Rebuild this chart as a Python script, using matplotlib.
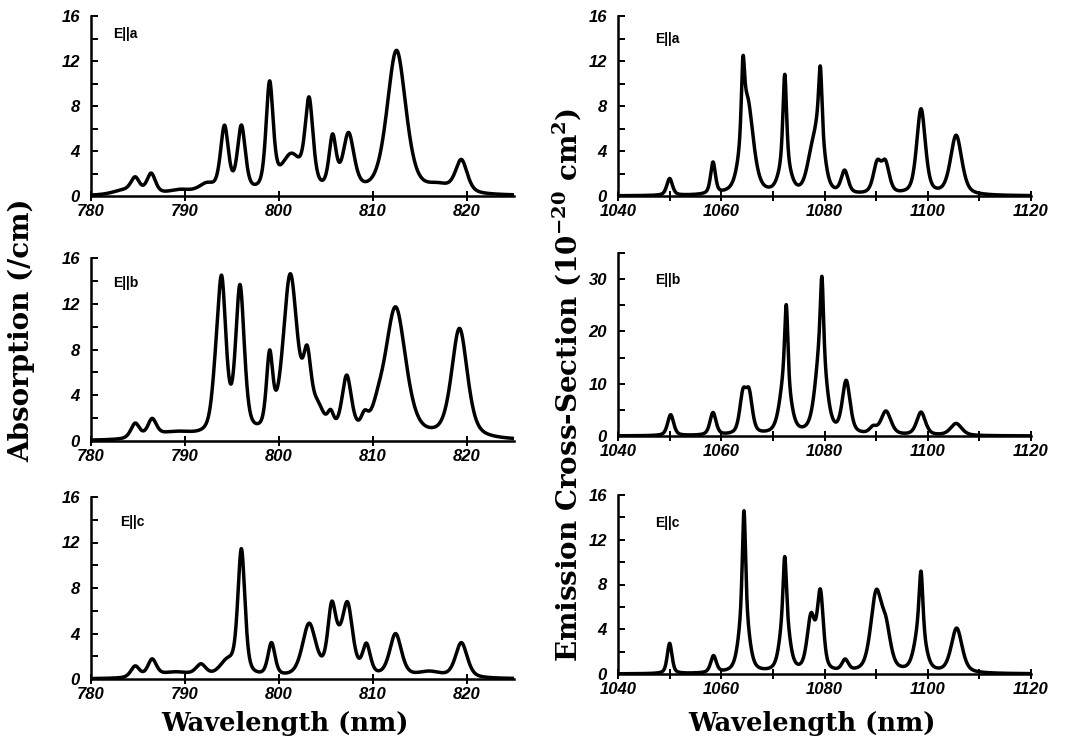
import numpy as np
import matplotlib.pyplot as plt
from matplotlib.ticker import MultipleLocator

plt.rcParams['mathtext.fontset'] = 'dejavuserif'
plt.rcParams['mathtext.default'] = 'bf'

# peak lists: centre (nm), amplitude, FWHM (nm)
abs_a_pos = [783.5, 784.7, 786.4, 789.5, 792.3, 794.2, 796.0, 799.0, 801.3, 803.2, 805.7, 807.4, 812.5, 817.0, 819.4]
abs_a_amp = [0.4, 1.3, 1.8, 0.4, 0.8, 5.8, 5.8, 9.4, 3.2, 7.6, 4.6, 5.0, 12.8, 0.6, 2.9]
abs_a_fwhm = [3.0, 1.1, 1.1, 3.0, 2.0, 1.0, 1.0, 0.9, 2.6, 1.0, 0.9, 1.4, 2.4, 3.0, 1.5]

abs_b_pos = [784.7, 786.5, 789.0, 793.2, 793.9, 795.85, 799.0, 801.2, 803.0, 804.1, 805.5, 807.2, 809.1, 810.5, 812.4, 819.2]
abs_b_amp = [1.3, 1.5, 0.6, 2.5, 13.0, 12.8, 6.4, 14.0, 5.6, 2.0, 1.4, 5.0, 1.2, 1.2, 11.4, 9.6]
abs_b_fwhm = [1.1, 1.1, 5.0, 1.0, 1.1, 1.1, 0.8, 1.8, 1.0, 1.6, 0.8, 1.2, 0.9, 1.6, 2.6, 2.0]

abs_c_pos = [784.7, 786.5, 789.0, 791.7, 794.5, 796.0, 799.2, 803.2, 805.6, 806.3, 807.3, 809.3, 812.4, 816.0, 819.4]
abs_c_amp = [1.0, 1.5, 0.5, 1.0, 1.3, 11.0, 2.9, 4.6, 5.2, 1.6, 5.8, 2.6, 3.8, 0.5, 3.1]
abs_c_fwhm = [1.1, 1.1, 4.0, 1.3, 2.0, 0.9, 0.9, 1.7, 1.0, 1.5, 1.3, 1.0, 1.5, 3.0, 1.5]

em_a_pos = [1050.0, 1058.4, 1064.2, 1065.0, 1072.3, 1072.3, 1077.4, 1079.2, 1079.0, 1083.9, 1090.2, 1091.8, 1098.7, 1105.5]
em_a_amp = [1.5, 2.8, 5.8, 8.4, 7.5, 3.0, 2.5, 5.0, 6.0, 2.0, 2.6, 2.6, 7.6, 5.3]
em_a_fwhm = [1.3, 1.1, 0.7, 2.8, 0.8, 2.4, 2.2, 0.7, 2.2, 1.6, 1.8, 1.8, 2.0, 2.6]

em_b_pos = [1050.2, 1058.4, 1064.2, 1065.4, 1072.6, 1072.4, 1079.5, 1079.3, 1084.2, 1089.4, 1091.9, 1098.7, 1105.5]
em_b_amp = [4.0, 4.3, 7.2, 7.2, 13.5, 11.5, 13.5, 17.0, 10.0, 1.2, 4.5, 4.4, 2.3]
em_b_fwhm = [1.4, 1.4, 1.5, 1.5, 0.7, 2.3, 0.7, 2.4, 1.8, 1.6, 2.3, 2.0, 2.6]

em_c_pos = [1050.0, 1058.5, 1064.4, 1064.4, 1072.3, 1072.3, 1077.4, 1079.2, 1084.0, 1090.0, 1091.9, 1098.7, 1098.5, 1105.6]
em_c_amp = [2.7, 1.5, 8.5, 6.0, 4.8, 5.5, 4.8, 6.8, 1.0, 6.8, 3.3, 4.8, 4.3, 4.0]
em_c_fwhm = [1.1, 1.3, 0.7, 2.1, 0.7, 2.0, 1.8, 1.4, 1.5, 2.5, 2.2, 0.8, 2.3, 2.5]

ETA = 0.5  # lorentzian share of the pseudo-voigt line shape


def spectrum(x, pos, amp, fwhm):
    y = np.zeros_like(x)
    for c, h, w in zip(pos, amp, fwhm):
        d = 4 * (x - c) ** 2 / w ** 2
        y += h * ((1 - ETA) * np.exp(-np.log(2) * d) + ETA / (1 + d))
    return y


W, H = 1067, 746
fig = plt.figure(figsize=(W / 100, H / 100), dpi=100)

tick_font = dict(family='Liberation Sans', weight='bold', style='italic', size=12)
label_font = dict(family='DejaVu Serif', weight='bold', size=20)
tag_font = dict(family='Liberation Sans', weight='bold', size=10)

# pixel box in the reference: x0, x1, y of zero, y of top
panels = [
    (91, 514, 196, 16, (780, 825), (0, 16), abs_a_pos, abs_a_amp, abs_a_fwhm, 'E||a', (0.052, 0.88)),
    (91, 514, 441, 258, (780, 825), (0, 16), abs_b_pos, abs_b_amp, abs_b_fwhm, 'E||b', (0.052, 0.84)),
    (91, 514, 679, 497, (780, 825), (0, 16), abs_c_pos, abs_c_amp, abs_c_fwhm, 'E||c', (0.07, 0.84)),
    (618, 1031, 196, 16, (1040, 1120), (0, 16), em_a_pos, em_a_amp, em_a_fwhm, 'E||a', (0.09, 0.85)),
    (618, 1031, 436, 253, (1040, 1120), (0, 35), em_b_pos, em_b_amp, em_b_fwhm, 'E||b', (0.09, 0.83)),
    (618, 1031, 674, 495, (1040, 1120), (0, 16), em_c_pos, em_c_amp, em_c_fwhm, 'E||c', (0.09, 0.82)),
]

for x0, x1, yz, yt, xlim, ylim, pos, amp, fwhm, tag, tagxy in panels:
    ax = fig.add_axes([x0 / W, 1 - yz / H, (x1 - x0) / W, (yz - yt) / H])
    x = np.linspace(xlim[0], xlim[1], 3000)
    y = spectrum(x, pos, amp, fwhm)
    ax.plot(x, y, color='black', lw=2.5)
    ax.set_xlim(*xlim)
    ax.set_ylim(*ylim)
    for s in ['top', 'right']:
        ax.spines[s].set_visible(False)
    for s in ['left', 'bottom']:
        ax.spines[s].set_linewidth(1.8)
    if ylim[1] == 35:
        ax.yaxis.set_major_locator(MultipleLocator(10))
        ax.yaxis.set_minor_locator(MultipleLocator(5))
    else:
        ax.yaxis.set_major_locator(MultipleLocator(4))
        ax.yaxis.set_minor_locator(MultipleLocator(2))
    if xlim[0] == 780:
        ax.xaxis.set_major_locator(MultipleLocator(10))
    else:
        ax.xaxis.set_major_locator(MultipleLocator(20))
        ax.xaxis.set_minor_locator(MultipleLocator(10))
    ax.tick_params(axis='y', which='both', direction='in', length=5, width=1.4, pad=8)
    ax.tick_params(axis='x', which='both', direction='inout', length=7, width=1.4, pad=2)
    for lab in ax.get_xticklabels() + ax.get_yticklabels():
        lab.set_fontproperties(tick_font)
    ax.text(tagxy[0], tagxy[1], tag, transform=ax.transAxes, **tag_font)

wl_font = dict(label_font, size=18.5)
fig.text(285 / W, 1 - 724 / H, 'Wavelength (nm)', ha='center', va='center', **wl_font)
fig.text(812 / W, 1 - 724 / H, 'Wavelength (nm)', ha='center', va='center', **wl_font)
fig.text(22 / W, 1 - 330 / H, 'Absorption (/cm)', rotation=90, ha='center', va='center', **label_font)
fig.text(567 / W, 1 - 385 / H, 'Emission Cross-Section (10$^{-20}$ cm$^{2}$)', rotation=90,
         ha='center', va='center', **label_font)

fig.savefig('out.png', dpi=100)
